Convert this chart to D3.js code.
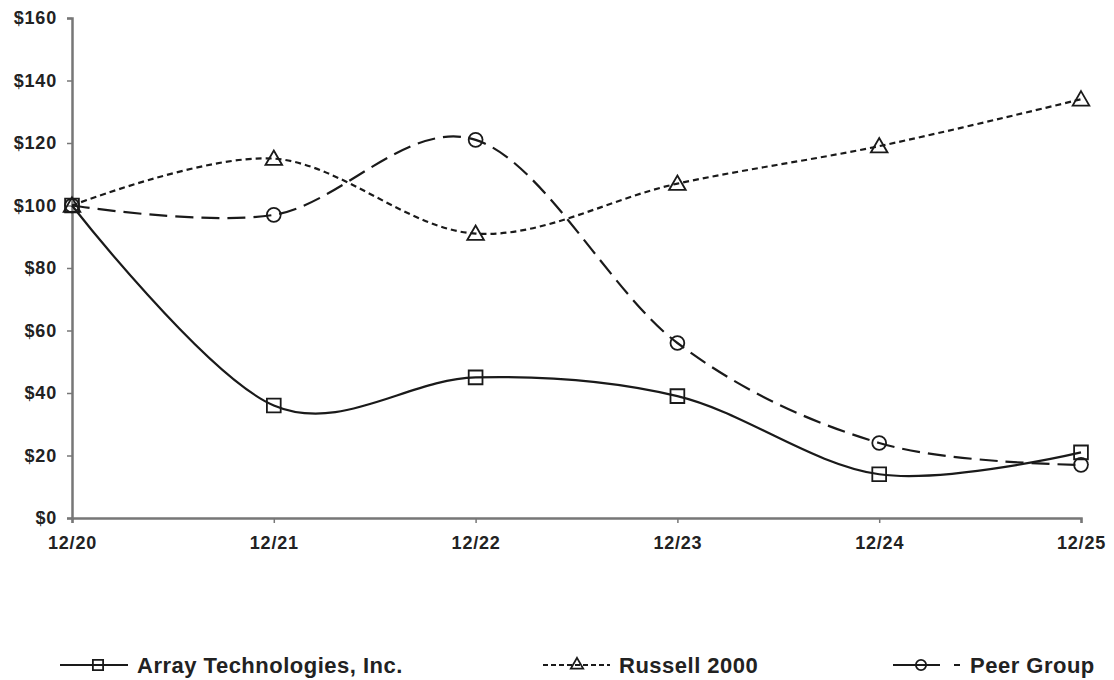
<!DOCTYPE html>
<html>
<head>
<meta charset="utf-8">
<script src="https://cdn.jsdelivr.net/npm/d3@7"></script>
<style>
  html, body { margin: 0; padding: 0; background: #fff; }
  svg { display: block; }
  .tick text { font-family: "Liberation Sans", Arial, sans-serif; font-weight: bold; font-size: 18px; letter-spacing: 0.8px; fill: #222; }
  .legend text { font-family: "Liberation Sans", Arial, sans-serif; font-weight: bold; font-size: 22px; letter-spacing: 0.5px; fill: #222; }
</style>
</head>
<body>
<svg id="chart" width="1114" height="680"></svg>
<script>
// Cumulative total return, indexed to $100
const periods = ["12/20", "12/21", "12/22", "12/23", "12/24", "12/25"];
const arrayTech = [100, 36, 45, 39, 14, 21];
const russell2000 = [100, 115, 91, 107, 119, 134];
const peerGroup = [100, 97, 121, 56, 24, 17];
const yTicks = [0, 20, 40, 60, 80, 100, 120, 140, 160];

const series = [
  { name: "Array Technologies, Inc.", values: arrayTech, dash: null, symbol: d3.symbolSquare },
  { name: "Russell 2000", values: russell2000, dash: "6,4", symbol: d3.symbolTriangle },
  { name: "Peer Group", values: peerGroup, dash: "18,8", symbol: d3.symbolCircle }
];

const svg = d3.select("#chart");
const margin = { left: 72, right: 33, top: 18, bottom: 162 };
const W = 1114, H = 680;

const x = d3.scalePoint().domain(periods).range([margin.left, W - margin.right]);
const y = d3.scaleLinear().domain([0, 160]).range([H - margin.bottom, margin.top]);

const axisColor = "#777";

// y axis
const yAxis = svg.append("g")
  .attr("transform", `translate(${margin.left},0)`)
  .call(d3.axisLeft(y).tickValues(yTicks).tickFormat(d => "$" + d).tickSize(5).tickPadding(10));
yAxis.select(".domain").attr("stroke", axisColor).attr("stroke-width", 2.5);
yAxis.selectAll(".tick line").attr("stroke", axisColor).attr("stroke-width", 1.5);

// x axis
const xAxis = svg.append("g")
  .attr("transform", `translate(0,${y(0)})`)
  .call(d3.axisBottom(x).tickSize(5).tickPadding(9));
xAxis.select(".domain").attr("stroke", axisColor).attr("stroke-width", 2.5);
xAxis.selectAll(".tick line").attr("stroke", axisColor).attr("stroke-width", 1.5);
xAxis.selectAll(".tick text").attr("dy", "0.95em");

// smoothed lines
const line = d3.line()
  .x((d, i) => x(periods[i]))
  .y(d => y(d))
  .curve(d3.curveCardinal.tension(0));

series.forEach(s => {
  svg.append("path")
    .datum(s.values)
    .attr("d", line)
    .attr("fill", "none")
    .attr("stroke", "#1a1a1a")
    .attr("stroke-width", 2.2)
    .attr("stroke-dasharray", s.dash);
});

function symbolSize(sym) {
  if (sym === d3.symbolSquare) return 190;
  if (sym === d3.symbolTriangle) return 120;
  return 150;
}

// markers
series.forEach(s => {
  svg.append("g").selectAll("path")
    .data(s.values)
    .join("path")
    .attr("transform", (d, i) => `translate(${x(periods[i])},${y(d) + (s.symbol === d3.symbolTriangle ? 1.5 : 0)})`)
    .attr("d", d3.symbol().type(s.symbol).size(symbolSize(s.symbol)))
    .attr("fill", "none")
    .attr("stroke", "#1a1a1a")
    .attr("stroke-width", 1.8);
});

// legend
const legendY = 665;
const legendItems = [
  { s: series[0], x0: 60, x1: 128, mark: 98, tx: 137, dash: null },
  { s: series[1], x0: 543, x1: 610, mark: 577, tx: 619, dash: "5,3" },
  { s: series[2], x0: 893, x1: 961, mark: 921, tx: 970, dash: "47,14,6,100" }
];
const legend = svg.append("g").attr("class", "legend");
legendItems.forEach(it => {
  const g = legend.append("g");
  g.append("line")
    .attr("x1", it.x0).attr("x2", it.x1)
    .attr("y1", legendY).attr("y2", legendY)
    .attr("stroke", "#1a1a1a").attr("stroke-width", 2)
    .attr("stroke-dasharray", it.dash);
  g.append("path")
    .attr("transform", `translate(${it.mark},${legendY})`)
    .attr("d", d3.symbol().type(it.s.symbol).size(symbolSize(it.s.symbol) * 0.55))
    .attr("fill", "none")
    .attr("stroke", "#1a1a1a")
    .attr("stroke-width", 1.8);
  g.append("text")
    .attr("x", it.tx).attr("y", legendY + 8)
    .text(it.s.name);
});
</script>
</body>
</html>
